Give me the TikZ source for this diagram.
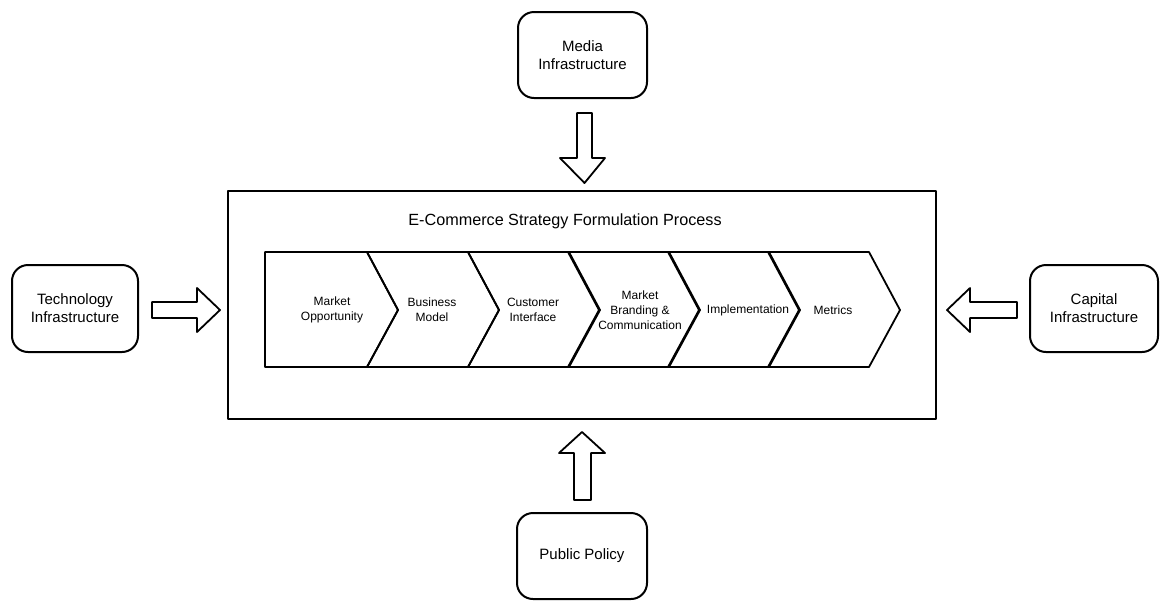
\documentclass[tikz,border=0pt]{standalone}
\usepackage{fontspec}
\setmainfont{Liberation Sans}
\begin{document}
\begin{tikzpicture}[x=0.5pt,y=-0.5pt,line join=round,
  box/.style={draw,line width=1pt,rounded corners=8pt,align=center,
    font=\fontsize{7.5}{9}\selectfont,inner sep=0pt},
  frame/.style={draw,line width=0.9pt,inner sep=0pt},
  stage/.style={draw,line width=0.9pt},
  stagetext/.style={align=center,font=\fontsize{6}{7.5}\selectfont,inner sep=0pt},
  blockarrow/.style={draw,line width=0.9pt,fill=white}]
\useasboundingbox (0,0) rectangle (1160,601);

% outer frame of the formulation process
\node[frame,minimum width=354pt,minimum height=114pt] (proc) at (582,305) {};
\node[font=\fontsize{8.1}{10}\selectfont] (title) at (565,221) {E-Commerce Strategy Formulation Process};

% surrounding infrastructure boxes
\node[box,minimum width=64.5pt,minimum height=43pt] (media) at (582.5,55) {Media\\Infrastructure};
\node[box,minimum width=65pt,minimum height=43pt] (policy) at (582,556) {Public Policy};
\node[box,minimum width=63pt,minimum height=43.5pt] (tech) at (75,308.5) {Technology\\Infrastructure};
\node[box,minimum width=64pt,minimum height=43.5pt] (capital) at (1094,308.5) {Capital\\Infrastructure};

% block arrows pointing into the process
\draw[blockarrow] (577,113) -- (592,113) -- (592,158) -- (605,158) -- (584.5,183)
  -- (560,158) -- (577,158) -- cycle;
\draw[blockarrow] (574,500) -- (591,500) -- (591,453) -- (605,453) -- (582,432)
  -- (559,453) -- (574,453) -- cycle;
\draw[blockarrow] (152,302) -- (197,302) -- (197,288) -- (220,310) -- (197,332)
  -- (197,318) -- (152,318) -- cycle;
\draw[blockarrow] (1017,302) -- (970,302) -- (970,288) -- (947,310) -- (970,332)
  -- (970,318) -- (1017,318) -- cycle;

% chevron stages
\draw[stage] (265,252) -- (367,252) -- (398,310) -- (367,367) -- (265,367) -- cycle;
\foreach \x in {367,468,568,668,768}
  \draw[stage] (\x,252) -- (\x+101,252) -- (\x+132,310) -- (\x+101,367) -- (\x,367) -- (\x+31,310) -- cycle;

\node[stagetext] (s1) at (332,310) {Market\\Opportunity};
\node[stagetext] (s2) at (432,310) {Business\\Model};
\node[stagetext] (s3) at (533,310) {Customer\\Interface};
\node[stagetext] (s4) at (640,310) {Market\\Branding \&\\Communication};
\node[stagetext] (s5) at (748,310) {Implementation};
\node[stagetext] (s6) at (833,310) {Metrics};
\end{tikzpicture}
\end{document}
